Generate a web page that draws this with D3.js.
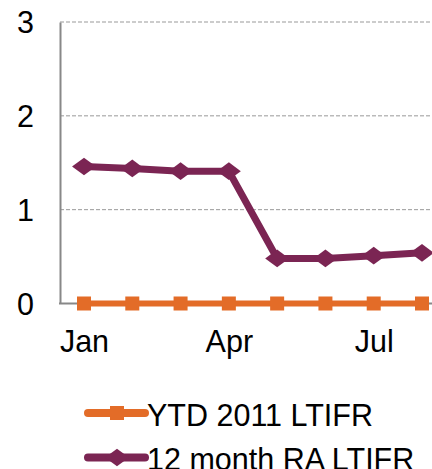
<!DOCTYPE html>
<html>
<head>
<meta charset="utf-8">
<script src="https://cdn.jsdelivr.net/npm/d3@7"></script>
<style>
  body { margin: 0; background: #fff; }
  text { font-family: "Liberation Sans", Arial, sans-serif; fill: #000; }
</style>
</head>
<body>
<div id="chart"></div>
<script>
const months = ['Jan', 'Feb', 'Mar', 'Apr', 'May', 'Jun', 'Jul', 'Aug'];
const tickLabels = ['Jan', 'Apr', 'Jul'];
const yTicks = [0, 1, 2, 3];
const ytdValues = [0, 0, 0, 0, 0, 0, 0, 0];
const raValues = [1.46, 1.44, 1.41, 1.41, 0.48, 0.48, 0.51, 0.54];
const seriesNames = ['YTD 2011 LTIFR', '12 month RA LTIFR'];

const width = 432, height = 469;
const orange = '#e36c28', purple = '#7b2553';
const fontSize = '30.5px';

const svg = d3.select('#chart')
  .append('svg')
  .attr('width', width)
  .attr('height', height);

const x = d3.scalePoint()
  .domain(months)
  .range([84, 422]);

const y = d3.scaleLinear()
  .domain([0, 3])
  .range([303.5, 22]);

// gridlines
svg.append('g')
  .selectAll('line')
  .data(yTicks.filter(d => d > 0))
  .enter()
  .append('line')
  .attr('x1', 60)
  .attr('x2', width)
  .attr('y1', d => y(d))
  .attr('y2', d => y(d))
  .attr('stroke', '#999')
  .attr('stroke-width', 1)
  .attr('stroke-dasharray', '4,2');

// y axis
const yAxis = d3.axisLeft(y).tickValues(yTicks).tickSize(0).tickPadding(26).tickFormat(d3.format('d'));
const yg = svg.append('g').attr('transform', 'translate(60,0)').call(yAxis);
yg.select('.domain').attr('stroke', '#888').attr('stroke-width', 2);
yg.selectAll('text').style('font-size', fontSize).attr('dy', '0.36em');

// x axis
const xAxis = d3.axisBottom(x).tickValues(tickLabels).tickSize(0).tickPadding(27);
const xg = svg.append('g').attr('transform', `translate(0,${y(0)})`).call(xAxis);
xg.select('.domain').attr('d', `M59,0H${width}`).attr('stroke', '#888').attr('stroke-width', 2);
xg.selectAll('text').style('font-size', fontSize);

const line = d3.line().x((d, i) => x(months[i])).y(d => y(d));

// YTD series
svg.append('path')
  .datum(ytdValues)
  .attr('fill', 'none')
  .attr('stroke', orange)
  .attr('stroke-width', 6)
  .attr('d', line);
svg.append('g')
  .selectAll('rect')
  .data(ytdValues)
  .enter()
  .append('rect')
  .attr('x', (d, i) => x(months[i]) - 7)
  .attr('y', d => y(d) - 7)
  .attr('width', 14)
  .attr('height', 14)
  .attr('fill', orange);

// 12 month RA series
svg.append('path')
  .datum(raValues)
  .attr('fill', 'none')
  .attr('stroke', purple)
  .attr('stroke-width', 7)
  .attr('stroke-linejoin', 'round')
  .attr('d', line);
svg.append('g')
  .selectAll('path')
  .data(raValues)
  .enter()
  .append('path')
  .attr('d', d3.symbol().type(d3.symbolDiamond2).size(200))
  .attr('transform', (d, i) => `translate(${x(months[i])},${y(d)}) scale(1.35,1)`)
  .attr('fill', purple);

// legend
const legend = svg.append('g').attr('transform', 'translate(88,413)');
const colors = [orange, purple];
const rows = legend.selectAll('g')
  .data(seriesNames)
  .enter()
  .append('g')
  .attr('transform', (d, i) => `translate(0,${i * 44.5})`);
rows.append('line')
  .attr('x1', 0).attr('x2', 57)
  .attr('stroke', (d, i) => colors[i])
  .attr('stroke-width', 8)
  .attr('stroke-linecap', 'round');
rows.filter((d, i) => i === 0).append('rect')
  .attr('x', 22).attr('y', -7).attr('width', 14).attr('height', 14)
  .attr('fill', orange);
rows.filter((d, i) => i === 1).append('path')
  .attr('d', d3.symbol().type(d3.symbolDiamond2).size(200))
  .attr('transform', 'translate(29,0) scale(1.35,1)')
  .attr('fill', purple);
rows.append('text')
  .attr('x', 59)
  .attr('dy', '0.42em')
  .style('font-size', fontSize)
  .text(d => d);
</script>
</body>
</html>
